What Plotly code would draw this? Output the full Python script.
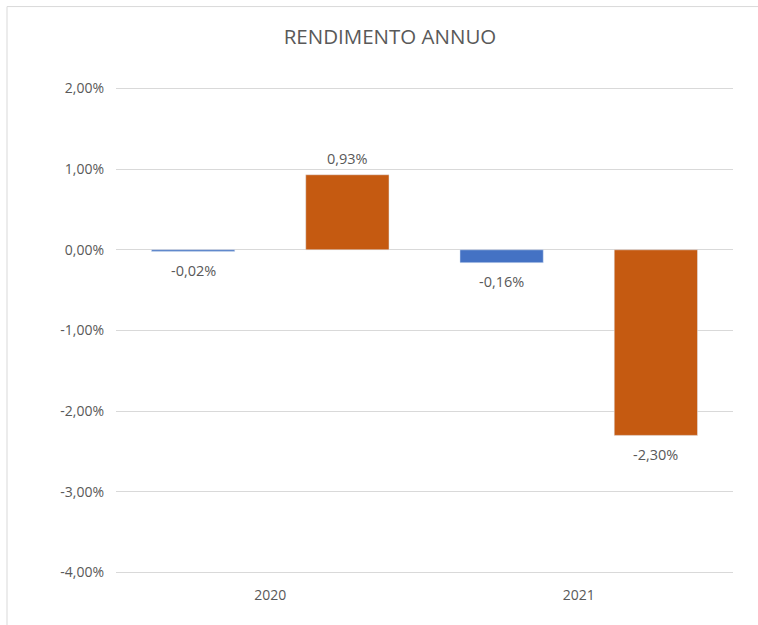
import plotly.graph_objects as go

categories = ["2020", "2021"]
series_a = [-0.0002, -0.0016]   # blue
series_b = [0.0093, -0.0230]    # orange
tick_vals = [0.02, 0.01, 0.0, -0.01, -0.02, -0.03, -0.04]
tick_text = ["2,00%", "1,00%", "0,00%", "-1,00%", "-2,00%", "-3,00%", "-4,00%"]

def fmt(v):
    return f"{v*100:.2f}%".replace(".", ",")

W, H = 758, 625
PAD = 0.0003  # range padding so edge gridlines are drawn
PX_PER_UNIT = 485 / 0.06
padpx = PAD * PX_PER_UNIT
ML, MR = 116, 25
MT, MB = 88 - padpx, 52 - padpx
TXT = "#595959"
GRID = "#D9D9D9"
FONT = "Open Sans"
COLORS = ["#4472C4", "#C55A11"]
XSHIFT = [-77, 77]

fig = go.Figure()
for k, (vals, col) in enumerate(zip([series_a, series_b], COLORS)):
    fig.add_trace(go.Bar(x=categories, y=vals, marker_color=col))
    for i, v in enumerate(vals):
        fig.add_annotation(x=i, y=v, text=fmt(v), showarrow=False,
                           xshift=XSHIFT[k], yshift=16 if v > 0 else -19,
                           yanchor="middle",
                           font=dict(color=TXT, size=14.5, family=FONT))

pw, ph = W - ML - MR, H - MT - MB
fig.add_shape(type="line", xref="paper", yref="paper",
              x0=(7 - ML) / pw, x1=(W - ML) / pw,
              y0=(H - MB - 6) / ph, y1=(H - MB - 6) / ph,
              line=dict(color=GRID, width=1))
fig.add_shape(type="line", xref="paper", yref="paper",
              x0=(7 - ML) / pw, x1=(7 - ML) / pw,
              y0=(H - MB - 6) / ph, y1=-MB / ph - 0.01,
              line=dict(color=GRID, width=1))

fig.update_layout(
    width=W, height=H,
    margin=dict(l=ML, r=MR, t=MT, b=MB),
    paper_bgcolor="white", plot_bgcolor="white",
    showlegend=False,
    barmode="group", bargap=0.0, bargroupgap=0.46,
    title=dict(text="RENDIMENTO ANNUO", x=390 / W, xanchor="center", xref="container",
               y=1 - 37 / H, yanchor="middle", yref="container",
               font=dict(family=FONT, size=20.5, color=TXT)),
    font=dict(family=FONT, color=TXT, size=13),
)
fig.update_yaxes(range=[-0.04 - PAD, 0.02 + PAD], tickvals=tick_vals, ticktext=tick_text,
                 showgrid=True, gridcolor=GRID, gridwidth=1,
                 zeroline=True, zerolinecolor=GRID, zerolinewidth=1,
                 showline=False, ticks="", ticklabelstandoff=11,
                 tickfont=dict(size=14, color=TXT, family=FONT))
fig.update_xaxes(type="category", categoryarray=categories, categoryorder="array",
                 showline=False, ticks="", showgrid=False, ticklabelstandoff=10,
                 tickfont=dict(size=14, color=TXT, family=FONT))

fig.write_html("out.html", config={"displayModeBar": False},
               post_script="document.body.style.margin='0';")
